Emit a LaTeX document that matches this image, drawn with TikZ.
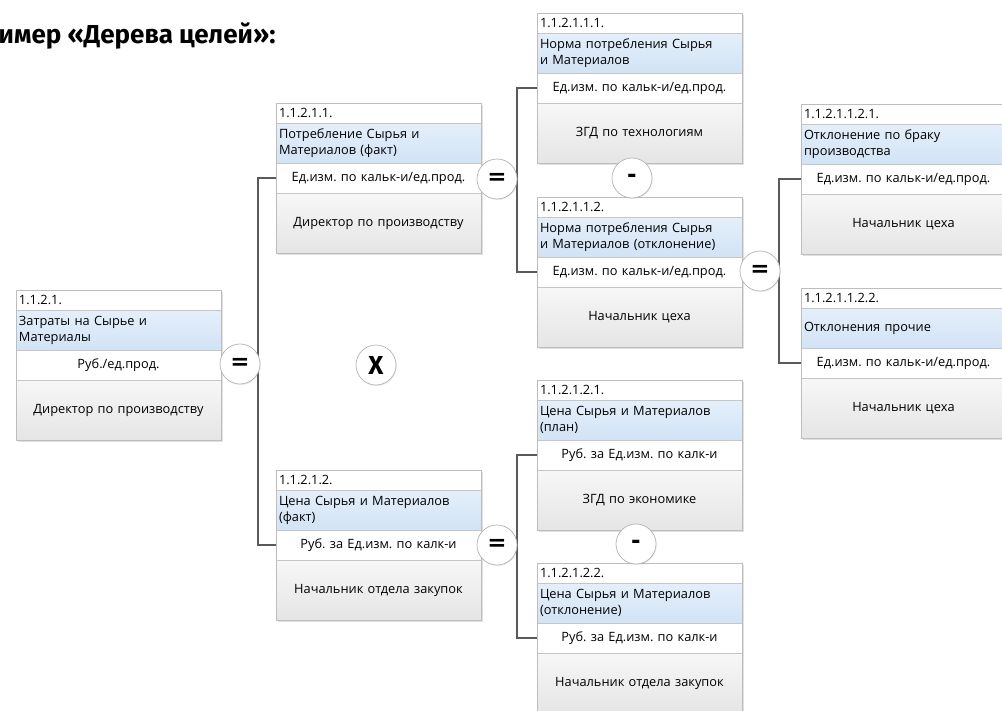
\documentclass[tikz,border=0pt]{standalone}
\usepackage{fontspec}
\setmainfont{Open Sans}
\newfontfamily\titlefont{Fira Sans}
\newfontfamily\symfont{DejaVu Sans}
\usetikzlibrary{shadows}
\frenchspacing

\definecolor{bordc}{HTML}{BDBDBD}
\definecolor{sepc}{HTML}{C6C6C6}
\definecolor{bluetop}{HTML}{E4EFFA}
\definecolor{bluebot}{HTML}{D2E3F5}
\definecolor{roletop}{HTML}{F7F7F7}
\definecolor{rolebot}{HTML}{E5E5E5}
\definecolor{linec}{HTML}{5A5A5A}
\definecolor{circc}{HTML}{B4B4B4}

\tikzset{
  row/.style={anchor=north west, inner sep=0pt, outer sep=0pt,
    minimum width=205pt, text width=199pt,
    font=\fontsize{12.8}{16}\selectfont, draw=sepc, line width=0.6pt},
  numrow/.style={row, minimum height=20pt, fill=white, align=left},
  titlerow/.style={row, minimum height=40pt, top color=bluetop, bottom color=bluebot, align=left},
  unitrow/.style={row, minimum height=30pt, fill=white, align=center},
  rolerow/.style={row, minimum height=60pt, top color=roletop, bottom color=rolebot, align=center},
  boxframe/.style={draw=bordc, line width=0.8pt},
  boxshadow/.style={fill=black, opacity=0.12},
  conn/.style={draw=linec, line width=1.1pt},
  opcirc/.style={circle, minimum size=40pt, inner sep=0pt, fill=white, draw=circc,
    line width=0.7pt, drop shadow={shadow xshift=0.8pt, shadow yshift=-1pt, opacity=0.15}},
  opsym/.style={font=\symfont\bfseries\fontsize{23}{23}\selectfont},
}

\newcommand\goalbox[7]{%
  \fill[boxshadow] (#2+2,#3+2) rectangle (#2+207,#3+152);
  \node[numrow] (#1n) at (#2,#3) {#4};
  \node[titlerow] (#1t) at (#1n.south west) {#5};
  \node[unitrow] (#1u) at (#1t.south west) {#6};
  \node[rolerow] (#1r) at (#1u.south west) {#7};
  \draw[boxframe] (#1n.north west) rectangle (#1r.south east);
}

\begin{document}
\begin{tikzpicture}[x=1pt, y=-1pt]
\clip (0,0) rectangle (1002,710);
\fill[white] (0,0) rectangle (1002,710);

\node[anchor=base east, font=\titlefont\bfseries\fontsize{26}{28}\selectfont] (title) at (279,43) {Пример «Дерева целей»:};

\goalbox{A}{16}{290}{1.1.2.1.}{Затраты на Сырье и\\Материалы}{Руб./ед.прод.}{Директор по производству}
\goalbox{B}{276}{103}{1.1.2.1.1.}{Потребление Сырья и\\Материалов (факт)}{Ед.изм. по кальк-и/ед.прод.}{Директор по производству}
\goalbox{C}{276}{470}{1.1.2.1.2.}{Цена Сырья и Материалов\\(факт)}{Руб. за Ед.изм. по калк-и}{Начальник отдела закупок}
\goalbox{D}{537}{13}{1.1.2.1.1.1.}{Норма потребления Сырья\\и Материалов}{Ед.изм. по кальк-и/ед.прод.}{ЗГД по технологиям}
\goalbox{E}{537}{197}{1.1.2.1.1.2.}{Норма потребления Сырья\\и Материалов (отклонение)}{Ед.изм. по кальк-и/ед.прод.}{Начальник цеха}
\goalbox{F}{801}{104}{1.1.2.1.1.2.1.}{Отклонение по браку\\производства}{Ед.изм. по кальк-и/ед.прод.}{Начальник цеха}
\goalbox{G}{801}{288}{1.1.2.1.1.2.2.}{Отклонения прочие}{Ед.изм. по кальк-и/ед.прод.}{Начальник цеха}
\goalbox{H}{537}{380}{1.1.2.1.2.1.}{Цена Сырья и Материалов\\(план)}{Руб. за Ед.изм. по калк-и}{ЗГД по экономике}
\goalbox{I}{537}{563}{1.1.2.1.2.2.}{Цена Сырья и Материалов\\(отклонение)}{Руб. за Ед.изм. по калк-и}{Начальник отдела закупок}

% bracket connectors
\coordinate (jA) at (258,360);
\coordinate (jB) at (517,180);
\coordinate (jE) at (779,270);
\coordinate (jC) at (517,545);
\draw[conn] (Bu.west) -| (jA) |- (Cu.west);
\draw[conn] (Du.west) -| (jB) |- (Eu.west);
\draw[conn] (Fu.west) -| (jE) |- (Gu.west);
\draw[conn] (Hu.west) -| (jC) |- (Iu.west);

% operators
\node[opcirc] (opA) at (240,364) {};
\node[opsym] (symA) at (opA.center) {=};
\node[opcirc] (opX) at (376,365) {};
\node[font=\titlefont\bfseries\fontsize{26}{26}\selectfont] (symX) at (opX.center) {X};
\node[opcirc] (opB) at (497,179) {};
\node[opsym] (symB) at (opB.center) {=};
\node[opcirc] (opM1) at (632,178) {};
\node[opsym] (symM1) at (opM1.center) {-};
\node[opcirc] (opE) at (760,271) {};
\node[opsym] (symE) at (opE.center) {=};
\node[opcirc] (opC) at (497,545) {};
\node[opsym] (symC) at (opC.center) {=};
\node[opcirc] (opM2) at (636,544) {};
\node[opsym] (symM2) at (opM2.center) {-};
\end{tikzpicture}
\end{document}
